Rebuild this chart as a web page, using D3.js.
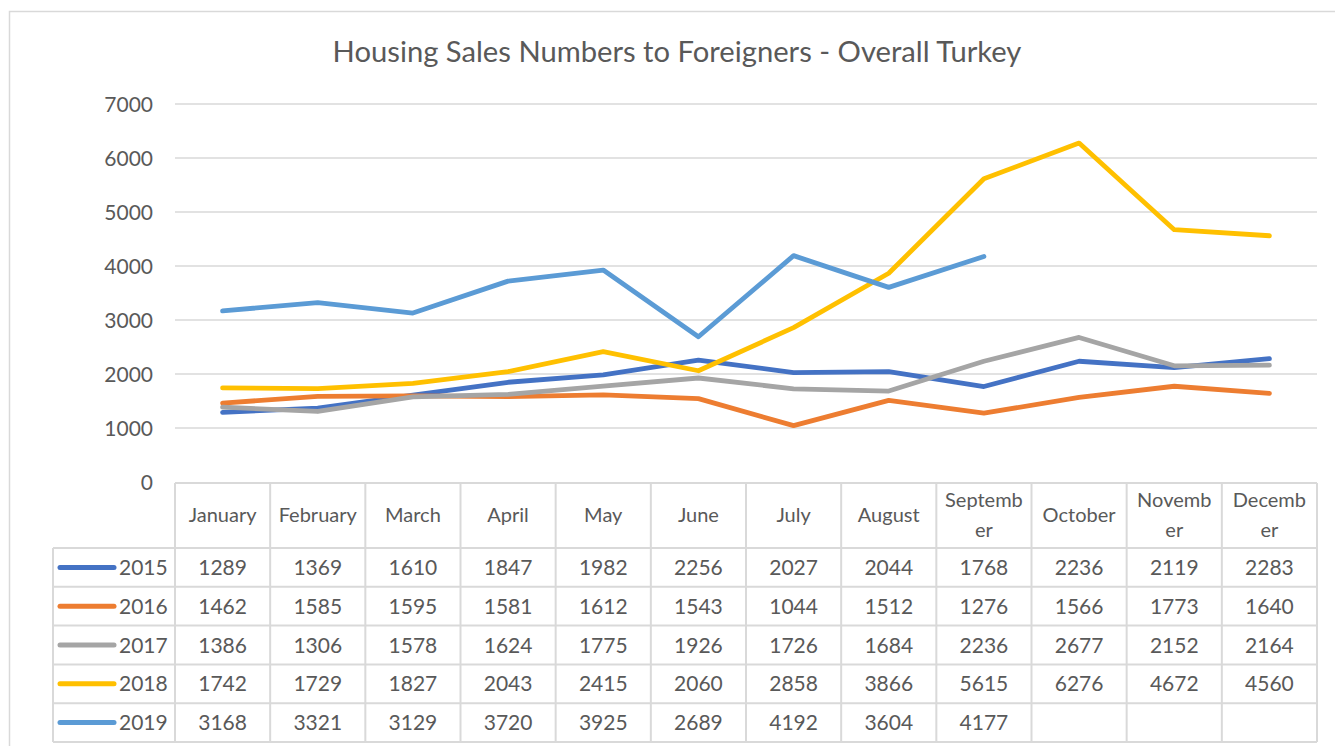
<!DOCTYPE html>
<html><head><meta charset="utf-8">
<script src="https://cdn.jsdelivr.net/npm/d3@7"></script>
<style>body{margin:0;background:#fff;} svg{display:block;font-family:Lato,"Open Sans",sans-serif;}</style>
</head><body>
<svg id="c" width="1335" height="746"></svg>
<script>
const title = "Housing Sales Numbers to Foreigners - Overall Turkey";
const months = ["January","February","March","April","May","June","July","August","September","October","November","December"];
const monthLabels = [["January"],["February"],["March"],["April"],["May"],["June"],["July"],["August"],["Septemb","er"],["October"],["Novemb","er"],["Decemb","er"]];
const seriesNames = ["2015","2016","2017","2018","2019"];
const v2015 = [1289,1369,1610,1847,1982,2256,2027,2044,1768,2236,2119,2283];
const v2016 = [1462,1585,1595,1581,1612,1543,1044,1512,1276,1566,1773,1640];
const v2017 = [1386,1306,1578,1624,1775,1926,1726,1684,2236,2677,2152,2164];
const v2018 = [1742,1729,1827,2043,2415,2060,2858,3866,5615,6276,4672,4560];
const v2019 = [3168,3321,3129,3720,3925,2689,4192,3604,4177,null,null,null];
const yTicks = [0,1000,2000,3000,4000,5000,6000,7000];
const colors = ["#4472C4","#ED7D31","#A5A5A5","#FFC000","#5B9BD5"];

const series = seriesNames.map((n,i)=>({name:n, values:[v2015,v2016,v2017,v2018,v2019][i], color:colors[i]}));

const svg = d3.select("#c");
const txt = "#595959", grid = "#d9d9d9";
const plotL = 175, plotR = 1317, plotT = 104, plotB = 482;
const x = d3.scaleBand().domain(months).range([plotL, plotR]);
const y = d3.scaleLinear().domain([0,7000]).range([plotB, plotT]);

// outer frame
svg.append("rect").attr("x",9.5).attr("y",11.5).attr("width",1340).attr("height",760)
  .attr("fill","none").attr("stroke",grid).attr("stroke-width",1.5);

// title
const t = svg.append("text").attr("x",677).attr("y",62).attr("text-anchor","middle")
  .attr("fill",txt).style("font-size","26px").text(title);
const tw = t.node().getComputedTextLength();
t.style("font-size", (26*689/tw).toFixed(2)+"px");

// gridlines
svg.append("g").selectAll("line").data(yTicks.filter(d=>d>0)).join("line")
  .attr("x1",plotL).attr("x2",plotR).attr("y1",d=>y(d)).attr("y2",d=>y(d))
  .attr("stroke",grid).attr("stroke-width",1.5);

// y axis labels
const yAxis = d3.axisLeft(y).tickValues(yTicks).tickFormat(d3.format("d")).tickSize(0).tickPadding(0);
const ga = svg.append("g").attr("transform","translate(153,0)").call(yAxis);
ga.select(".domain").remove();
ga.selectAll("text").attr("fill",txt).style("font-size","21px").style("font-family","Lato,'Open Sans',sans-serif").attr("dy","0.36em");

// lines
const line = d3.line().defined(d=>d!=null)
  .x((d,i)=>x(months[i])+x.bandwidth()/2).y(d=>y(d));
svg.append("g").selectAll("path").data(series).join("path")
  .attr("d",d=>line(d.values)).attr("fill","none").attr("stroke",d=>d.color)
  .attr("stroke-width",4.8).attr("stroke-linejoin","round").attr("stroke-linecap","round");

// data table
const tblT = 483, hdrB = 548, tblB = 742, legL = 53;
const rowY = d3.scaleBand().domain(seriesNames).range([hdrB, tblB]);
const tg = svg.append("g");
const bs = {stroke:grid, w:2};
function hl(x1,x2,yy){tg.append("line").attr("x1",x1).attr("x2",x2).attr("y1",yy).attr("y2",yy).attr("stroke",bs.stroke).attr("stroke-width",bs.w);}
function vl(xx,y1,y2){tg.append("line").attr("x1",xx).attr("x2",xx).attr("y1",y1).attr("y2",y2).attr("stroke",bs.stroke).attr("stroke-width",bs.w);}
hl(plotL, plotR, tblT);
hl(legL, plotR, hdrB);
seriesNames.forEach(s=>hl(legL, plotR, rowY(s)+rowY.bandwidth()));
vl(legL, hdrB, tblB);
months.forEach(m=>vl(x(m), tblT, tblB));
vl(plotR, tblT, tblB);

// header labels
months.forEach((m,i)=>{
  const lines = monthLabels[i];
  const cx = x(m)+x.bandwidth()/2, cy = (tblT+hdrB)/2 - 1;
  const lh = 30;
  lines.forEach((l,j)=>{
    tg.append("text").attr("x",cx).attr("y",cy + (j-(lines.length-1)/2)*lh).attr("dy","0.36em")
      .attr("text-anchor","middle").attr("fill",txt).style("font-size","20px").text(l);
  });
});

// rows
series.forEach(s=>{
  const cy = rowY(s.name)+rowY.bandwidth()/2;
  tg.append("line").attr("x1",60).attr("x2",114).attr("y1",cy).attr("y2",cy)
    .attr("stroke",s.color).attr("stroke-width",5).attr("stroke-linecap","round");
  tg.append("text").attr("x",119).attr("y",cy).attr("dy","0.36em").attr("fill",txt)
    .style("font-size","21px").text(s.name);
  s.values.forEach((v,i)=>{
    if(v==null) return;
    tg.append("text").attr("x",x(months[i])+x.bandwidth()/2).attr("y",cy).attr("dy","0.36em")
      .attr("text-anchor","middle").attr("fill",txt).style("font-size","21px").text(v);
  });
});
</script>
</body></html>
